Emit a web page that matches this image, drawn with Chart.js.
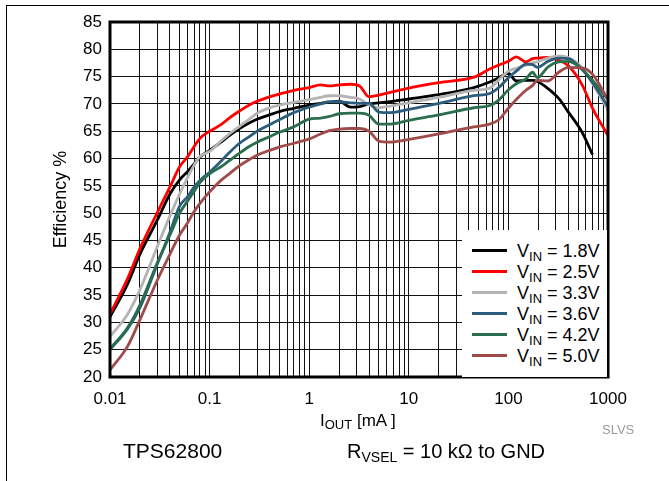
<!DOCTYPE html>
<html>
<head>
<meta charset="utf-8">
<script src="https://cdn.jsdelivr.net/npm/chart.js@4.4.1/dist/chart.umd.min.js"></script>
<style>
  html, body { margin: 0; padding: 0; background: #fff; }
  #wrap { position: relative; width: 669px; height: 481px; overflow: hidden; font-family: "Liberation Sans", Arial, sans-serif; color: #000; }
  #chart { position: absolute; left: 0; top: 0; }
  .frame { position: absolute; left: 6px; top: 5px; width: 700px; height: 500px; border-left: 1.5px solid #000; border-top: 1.5px solid #000; }
  .txt { position: absolute; white-space: nowrap; line-height: 1; }
  .sub { position: relative; top: 4px; }
  #legend { position: absolute; left: 462px; top: 230px; width: 145px; height: 147px; background: #fff; }
  .swatch { position: absolute; left: 10px; width: 35px; height: 3px; }
  .ltxt { position: absolute; left: 55px; white-space: nowrap; line-height: 1; font-size: 18px; }
  .ltxt .sub { font-size: 13px; }
</style>
</head>
<body>
<div id="wrap">
  <div class="frame"></div>
  <canvas id="chart" width="669" height="481" style="width:669px;height:481px"></canvas>
  <div id="legend"></div>
  <div class="txt" style="left:320px; top:412px; font-size:17px;">I<span class="sub" style="font-size:13px; top:3px;">OUT</span> [mA ]</div>
  <div class="txt" style="left:602px; top:423px; font-size:13px; color:#9a9a9a;">SLVS</div>
  <div class="txt" style="left:123px; top:440px; font-size:21px;">TPS62800</div>
  <div class="txt" style="left:347px; top:441px; font-size:20px;">R<span class="sub" style="font-size:14px;">VSEL</span> = 10 kΩ to GND</div>
</div>
<script>
// output current, mA (log axis)
const currentMa = [0.01, 0.015, 0.02, 0.03, 0.04, 0.05, 0.06, 0.07, 0.08, 0.1,
  0.13, 0.16, 0.2, 0.25, 0.3, 0.4, 0.5, 0.7, 1, 1.3,
  1.6, 2, 2.6, 3.2, 4, 5, 6.5, 10, 20, 45,
  65, 80, 100, 120, 150, 175, 195, 250, 320, 400,
  550, 700, 1000];

// efficiency %, one array per input voltage
const eff18 = [31.0, 37.0, 42.5, 48.8, 53.5, 56.1, 57.6, 59.0, 60.3, 61.5,
  63.0, 64.3, 65.5, 66.5, 67.2, 68.0, 68.6, 69.2, 69.8, 70.1,
  70.3, 70.5, 69.4, 69.5, 70.0, 70.2, 70.4, 70.9, 71.7, 73.0,
  74.0, 74.8, 75.6, 74.2, 74.3, 74.3, 74.1, 72.8, 71.0, 68.5,
  64.8, 60.7, null];
const eff25 = [31.5, 38.0, 43.5, 50.2, 54.8, 58.5, 60.3, 62.2, 63.7, 65.0,
  66.2, 67.5, 68.7, 69.8, 70.5, 71.3, 71.8, 72.5, 73.0, 73.5,
  73.3, 73.5, 73.6, 73.3, 71.3, 71.6, 72.1, 72.9, 73.9, 74.9,
  76.4, 77.1, 77.8, 78.6, 77.7, 78.3, 78.4, 78.5, 78.0, 77.0,
  73.5, 69.2, 64.2];
const eff33 = [27.4, 31.5, 36.0, 44.0, 49.5, 53.5, 56.5, 58.8, 60.4, 61.3,
  63.2, 64.6, 65.9, 67.2, 68.3, 69.3, 69.8, 70.3, 70.8, 71.2,
  71.5, 71.5, 71.2, 70.9, 69.8, 69.3, 69.6, 70.2, 71.2, 72.5,
  72.9, 74.4, 76.0, 76.5, 77.1, 77.5, 77.7, 78.4, 78.8, 78.5,
  76.6, 73.7, 68.9];
const eff36 = [25.0, 28.8, 32.7, 40.8, 46.5, 51.3, 53.0, 54.8, 56.0, 57.5,
  59.5, 61.2, 62.8, 64.0, 65.0, 66.2, 67.1, 68.4, 69.4, 70.0,
  70.4, 70.4, 70.2, 70.1, 70.1, 68.5, 68.4, 69.0, 70.1, 71.5,
  71.9, 73.0, 74.8, 76.0, 77.3, 77.2, 76.7, 77.8, 78.4, 78.3,
  76.3, 73.9, 69.5];
const eff42 = [25.2, 29.0, 33.2, 41.0, 46.0, 50.0, 52.2, 54.0, 55.6, 57.2,
  58.5, 59.7, 61.0, 62.2, 63.0, 64.0, 64.8, 65.8, 67.2, 67.4,
  67.7, 68.2, 68.3, 68.3, 67.9, 66.3, 66.3, 67.0, 68.0, 69.3,
  69.7, 70.7, 72.6, 73.7, 74.6, 75.8, 74.8, 76.8, 77.7, 77.8,
  76.3, 74.3, 70.8];
const eff50 = [21.3, 25.6, 30.5, 37.8, 42.5, 46.0, 48.2, 50.3, 51.8, 53.9,
  56.0, 57.3, 58.7, 59.8, 60.6, 61.5, 62.1, 62.8, 63.6, 64.5,
  65.1, 65.4, 65.5, 65.5, 65.0, 63.2, 63.0, 63.5, 64.5, 65.8,
  66.3, 67.1, 69.2, 70.8, 72.5, 73.4, 74.3, 74.2, 75.8, 76.7,
  76.6, 75.4, 70.8];

const seriesNames = ['1.8V', '2.5V', '3.3V', '3.6V', '4.2V', '5.0V'];
const seriesValues = [eff18, eff25, eff33, eff36, eff42, eff50];
const seriesColors = ['#000000', '#ff0000', '#b4b4b4', '#2c5d7c', '#2b6e4d', '#a14a4a'];

const xDecades = [0.01, 0.1, 1, 10, 100, 1000];
const xTickLabels = ['0.01', '0.1', '1', '10', '100', '1000'];
const xMinorSteps = [1, 2, 3, 4, 5, 6, 7, 8, 9];

// grid lines at 1..9 of every decade
const xGridValues = [];
xDecades.forEach((d, i) => {
  if (i === xDecades.length - 1) { xGridValues.push(d); return; }
  xMinorSteps.forEach(k => xGridValues.push(+(d * k).toPrecision(6)));
});

const fontFamily = '"Liberation Sans", Arial, sans-serif';

// thick frame round the plot area
const plotFrame = {
  id: 'plotFrame',
  afterDatasetsDraw(chart) {
    const { ctx, chartArea: a } = chart;
    ctx.save();
    ctx.strokeStyle = '#000';
    ctx.lineWidth = 3;
    ctx.strokeRect(a.left, a.top, a.right - a.left, a.bottom - a.top);
    ctx.restore();
  }
};

const datasets = seriesNames.map((name, i) => ({
  label: 'VIN = ' + name,
  data: currentMa.map((x, j) => ({ x: x, y: seriesValues[i][j] })),
  borderColor: seriesColors[i],
  backgroundColor: seriesColors[i],
  borderWidth: 2.8,
  pointRadius: 0,
  fill: false,
  cubicInterpolationMode: 'monotone',
  order: seriesNames.length - 1 - i
}));

new Chart(document.getElementById('chart'), {
  type: 'line',
  data: { datasets: datasets },
  options: {
    responsive: false,
    animation: false,
    layout: { padding: { top: 22, right: 61, bottom: 0, left: 0 } },
    plugins: { legend: { display: false }, tooltip: { enabled: false } },
    scales: {
      x: {
        type: 'logarithmic',
        min: 0.01,
        max: 1000,
        afterBuildTicks: (s) => { s.ticks = xGridValues.map(v => ({ value: v })); },
        afterFit: (s) => { s.height = 104; },
        grid: { color: '#111', lineWidth: 1, drawTicks: false },
        border: { display: false },
        ticks: {
          autoSkip: false,
          maxRotation: 0,
          padding: 12,
          color: '#000',
          font: { family: fontFamily, size: 17 },
          callback: (v) => {
            const k = xDecades.indexOf(v);
            return k >= 0 ? xTickLabels[k] : '';
          }
        }
      },
      y: {
        min: 20,
        max: 85,
        afterFit: (s) => { s.width = 110; },
        grid: { color: '#111', lineWidth: 1, drawTicks: false },
        border: { display: false },
        ticks: { stepSize: 5, padding: 8, color: '#000', font: { family: fontFamily, size: 17 } },
        title: {
          display: true,
          text: 'Efficiency %',
          color: '#000',
          font: { family: fontFamily, size: 18 },
          padding: { top: 50, bottom: 0 }
        }
      }
    }
  },
  plugins: [plotFrame]
});

// legend with subscripts
const legend = document.getElementById('legend');
seriesNames.forEach((name, i) => {
  const sw = document.createElement('div');
  sw.className = 'swatch';
  sw.style.top = (19 + 21 * i) + 'px';
  sw.style.background = seriesColors[i];
  legend.appendChild(sw);
  const t = document.createElement('div');
  t.className = 'ltxt';
  t.style.top = (11.5 + 21 * i) + 'px';
  t.innerHTML = 'V<span class="sub">IN</span> = ' + name;
  legend.appendChild(t);
});
</script>
</body>
</html>
